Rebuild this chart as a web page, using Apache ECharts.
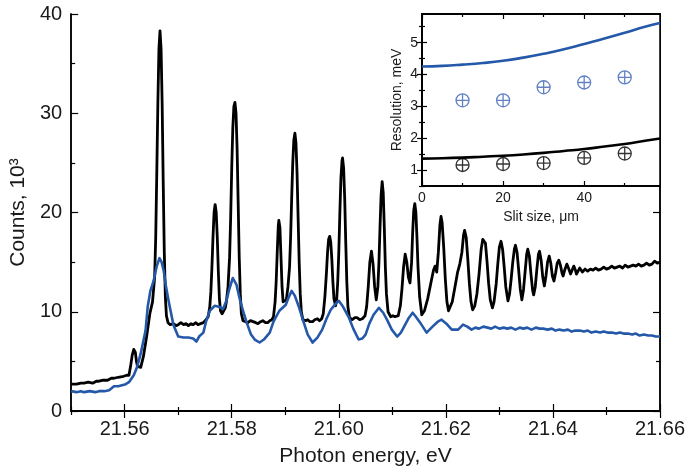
<!DOCTYPE html>
<html><head><meta charset="utf-8">
<script src="https://cdn.jsdelivr.net/npm/echarts@6/dist/echarts.min.js"></script>
<style>html,body{margin:0;padding:0;background:#fff}#c{width:688px;height:472px}</style>
</head><body><div id="c"></div>
<script>
// ---- main spectrum data (photon energy eV, counts x10^3) ----
const blackSpectrum = [[21.5500,2.7],[21.5510,2.7],[21.5518,2.8],[21.5524,2.8],[21.5532,2.9],[21.5540,2.8],[21.5547,3.0],[21.5552,3.0],[21.5560,3.1],[21.5568,3.1],[21.5575,3.3],[21.5580,3.3],[21.5588,3.4],[21.5598,3.5],[21.5604,3.6],[21.5608,3.6],[21.5611,4.5],[21.5614,5.6],[21.5617,6.2],[21.5620,5.9],[21.5622,5.0],[21.5624,4.5],[21.5630,4.4],[21.5635,5.5],[21.5641,7.5],[21.5647,9.8],[21.5652,11.0],[21.5656,13.5],[21.5658,17.5],[21.5660,24.0],[21.5662,31.0],[21.5664,36.5],[21.5666,38.3],[21.5668,36.5],[21.5670,31.0],[21.5672,23.0],[21.5674,16.0],[21.5676,11.5],[21.5678,9.6],[21.5681,8.9],[21.5685,8.7],[21.5691,8.8],[21.5696,8.6],[21.5700,8.7],[21.5705,8.9],[21.5710,8.7],[21.5715,8.8],[21.5719,8.6],[21.5724,8.8],[21.5728,8.7],[21.5733,8.9],[21.5737,8.7],[21.5742,8.8],[21.5747,8.9],[21.5752,9.2],[21.5756,9.5],[21.5759,10.5],[21.5761,12.0],[21.5763,14.5],[21.5765,17.5],[21.5767,20.0],[21.5769,20.8],[21.5771,20.0],[21.5773,17.5],[21.5775,14.0],[21.5777,11.3],[21.5779,10.1],[21.5782,9.8],[21.5785,9.9],[21.5788,10.4],[21.5790,11.0],[21.5793,12.5],[21.5796,15.5],[21.5798,19.5],[21.5800,24.5],[21.5802,28.5],[21.5804,30.7],[21.5806,31.1],[21.5808,30.0],[21.5810,26.5],[21.5812,21.0],[21.5814,15.5],[21.5816,11.8],[21.5818,9.8],[21.5821,9.1],[21.5826,9.0],[21.5830,8.9],[21.5835,9.1],[21.5840,9.0],[21.5845,8.9],[21.5849,8.8],[21.5854,9.0],[21.5858,9.1],[21.5863,8.9],[21.5867,8.9],[21.5871,9.1],[21.5875,9.2],[21.5878,9.5],[21.5881,11.0],[21.5883,13.0],[21.5885,16.0],[21.5887,18.7],[21.5888,19.2],[21.5890,18.5],[21.5892,15.5],[21.5894,12.5],[21.5896,11.0],[21.5899,10.8],[21.5902,11.2],[21.5905,12.5],[21.5908,14.5],[21.5910,17.5],[21.5912,21.5],[21.5914,25.0],[21.5916,27.3],[21.5918,28.0],[21.5920,27.0],[21.5922,24.0],[21.5924,19.5],[21.5926,15.0],[21.5928,11.8],[21.5930,10.0],[21.5933,9.2],[21.5938,9.1],[21.5942,9.2],[21.5946,9.0],[21.5951,9.0],[21.5955,9.2],[21.5960,9.3],[21.5964,9.1],[21.5968,9.3],[21.5971,9.8],[21.5974,11.5],[21.5977,14.0],[21.5979,16.0],[21.5981,17.3],[21.5983,17.6],[21.5985,17.0],[21.5987,15.3],[21.5989,13.0],[21.5991,11.3],[21.5994,10.6],[21.5996,11.2],[21.5998,13.0],[21.6000,16.0],[21.6002,20.0],[21.6004,23.5],[21.6006,25.2],[21.6007,25.5],[21.6009,24.5],[21.6011,21.5],[21.6013,17.0],[21.6015,13.0],[21.6017,10.5],[21.6020,9.4],[21.6025,9.2],[21.6030,9.4],[21.6034,9.4],[21.6039,9.2],[21.6044,9.3],[21.6049,9.6],[21.6052,10.5],[21.6055,12.5],[21.6058,15.0],[21.6061,16.1],[21.6064,14.8],[21.6067,12.5],[21.6070,11.2],[21.6073,12.5],[21.6075,15.0],[21.6077,18.5],[21.6079,21.7],[21.6081,23.1],[21.6083,22.0],[21.6085,18.5],[21.6087,14.5],[21.6089,11.8],[21.6092,10.0],[21.6097,9.5],[21.6101,9.6],[21.6105,9.5],[21.6108,9.7],[21.6111,9.6],[21.6115,10.6],[21.6118,12.3],[21.6121,14.5],[21.6124,15.8],[21.6127,15.0],[21.6130,13.5],[21.6133,12.9],[21.6136,15.0],[21.6138,18.0],[21.6140,20.2],[21.6142,20.9],[21.6144,20.0],[21.6146,17.5],[21.6148,14.5],[21.6151,11.5],[21.6155,9.7],[21.6160,10.1],[21.6166,11.3],[21.6172,12.9],[21.6177,14.2],[21.6180,14.6],[21.6183,14.0],[21.6186,16.0],[21.6189,18.8],[21.6191,19.6],[21.6193,19.0],[21.6196,16.5],[21.6199,13.3],[21.6202,11.0],[21.6205,10.1],[21.6208,10.3],[21.6212,11.0],[21.6217,12.5],[21.6222,14.0],[21.6226,14.8],[21.6230,16.0],[21.6233,17.7],[21.6235,18.2],[21.6238,17.5],[21.6241,15.3],[21.6244,12.8],[21.6247,11.0],[21.6250,10.2],[21.6254,10.6],[21.6258,11.8],[21.6262,13.8],[21.6266,16.3],[21.6269,17.3],[21.6271,17.5],[21.6274,16.9],[21.6277,15.0],[21.6280,12.8],[21.6283,11.2],[21.6287,10.4],[21.6290,11.0],[21.6294,12.8],[21.6297,14.8],[21.6300,16.5],[21.6303,17.1],[21.6306,16.3],[21.6309,14.5],[21.6312,12.5],[21.6316,11.1],[21.6319,11.8],[21.6322,13.3],[21.6325,15.0],[21.6328,16.3],[21.6330,16.7],[21.6333,16.0],[21.6336,14.2],[21.6339,12.3],[21.6342,11.2],[21.6345,12.2],[21.6348,14.0],[21.6351,15.8],[21.6353,16.3],[21.6356,15.6],[21.6359,13.8],[21.6362,12.2],[21.6364,11.7],[21.6367,12.5],[21.6370,14.3],[21.6373,15.8],[21.6375,16.1],[21.6378,15.2],[21.6381,13.5],[21.6384,12.6],[21.6387,13.6],[21.6390,15.0],[21.6393,15.6],[21.6396,14.9],[21.6399,13.6],[21.6402,13.1],[21.6405,13.9],[21.6408,14.9],[21.6411,15.2],[21.6414,14.7],[21.6417,13.9],[21.6419,13.6],[21.6422,14.2],[21.6426,14.8],[21.6429,14.4],[21.6433,13.8],[21.6436,14.2],[21.6439,14.6],[21.6442,14.2],[21.6444,13.8],[21.6447,14.1],[21.6450,14.4],[21.6455,14.0],[21.6460,14.3],[21.6465,14.1],[21.6470,14.3],[21.6475,14.2],[21.6480,14.4],[21.6485,14.2],[21.6490,14.3],[21.6495,14.5],[21.6500,14.3],[21.6505,14.4],[21.6510,14.6],[21.6515,14.4],[21.6520,14.5],[21.6525,14.6],[21.6530,14.4],[21.6535,14.7],[21.6540,14.5],[21.6545,14.6],[21.6550,14.7],[21.6555,14.6],[21.6560,14.8],[21.6565,14.6],[21.6570,14.7],[21.6575,14.9],[21.6580,14.7],[21.6585,14.8],[21.6590,15.1],[21.6595,14.9],[21.6600,15.0]];

const blueSpectrum = [[21.5500,2.0],[21.5510,1.9],[21.5518,2.0],[21.5524,1.9],[21.5535,2.0],[21.5545,1.9],[21.5552,2.0],[21.5562,2.0],[21.5571,2.1],[21.5580,2.5],[21.5588,2.5],[21.5595,2.6],[21.5602,2.7],[21.5608,2.9],[21.5617,3.6],[21.5623,4.4],[21.5630,5.8],[21.5639,8.1],[21.5643,10.5],[21.5648,12.1],[21.5654,13.1],[21.5660,14.6],[21.5665,15.4],[21.5669,15.0],[21.5673,14.1],[21.5677,12.6],[21.5682,11.1],[21.5691,8.7],[21.5700,7.5],[21.5710,7.4],[21.5719,7.4],[21.5728,7.3],[21.5734,7.0],[21.5739,7.5],[21.5747,7.9],[21.5752,9.0],[21.5759,10.1],[21.5768,10.6],[21.5776,10.5],[21.5784,10.3],[21.5790,11.1],[21.5795,12.2],[21.5802,13.4],[21.5809,12.7],[21.5814,11.5],[21.5821,10.1],[21.5828,8.9],[21.5836,7.7],[21.5843,7.2],[21.5852,6.9],[21.5860,7.2],[21.5871,7.9],[21.5878,9.0],[21.5889,10.1],[21.5901,10.7],[21.5906,11.4],[21.5912,12.1],[21.5918,11.6],[21.5926,10.4],[21.5934,9.0],[21.5942,7.7],[21.5951,6.9],[21.5960,7.4],[21.5969,8.2],[21.5977,9.3],[21.5985,10.2],[21.5994,10.8],[21.6000,11.1],[21.6008,10.5],[21.6019,9.4],[21.6027,8.3],[21.6037,7.2],[21.6044,7.3],[21.6050,7.7],[21.6057,8.8],[21.6065,9.7],[21.6075,10.4],[21.6083,9.9],[21.6090,9.2],[21.6099,8.2],[21.6109,7.5],[21.6116,7.9],[21.6124,8.7],[21.6131,9.4],[21.6138,9.9],[21.6144,9.5],[21.6152,8.9],[21.6164,7.9],[21.6177,8.6],[21.6185,9.0],[21.6192,9.2],[21.6201,8.8],[21.6211,8.2],[21.6223,8.2],[21.6232,8.7],[21.6240,8.5],[21.6248,8.2],[21.6255,8.4],[21.6262,8.3],[21.6270,8.5],[21.6278,8.4],[21.6285,8.3],[21.6292,8.5],[21.6300,8.3],[21.6308,8.4],[21.6315,8.3],[21.6322,8.4],[21.6330,8.2],[21.6338,8.4],[21.6345,8.3],[21.6352,8.4],[21.6360,8.2],[21.6368,8.4],[21.6375,8.3],[21.6382,8.3],[21.6390,8.2],[21.6398,8.3],[21.6405,8.1],[21.6412,8.2],[21.6420,8.1],[21.6428,8.2],[21.6435,8.0],[21.6442,8.1],[21.6450,8.1],[21.6458,8.0],[21.6465,8.1],[21.6472,7.9],[21.6480,8.0],[21.6488,7.9],[21.6495,8.0],[21.6502,7.9],[21.6510,7.9],[21.6518,7.8],[21.6525,7.9],[21.6532,7.8],[21.6540,7.8],[21.6548,7.7],[21.6555,7.8],[21.6562,7.6],[21.6570,7.7],[21.6578,7.6],[21.6585,7.6],[21.6592,7.5],[21.6600,7.5]];

// ---- inset data (slit size um, resolution meV) ----
const slitPoints = [10, 20, 30, 40, 50];
const bluePointRes = [3.19, 3.19, 3.60, 3.75, 3.91];
const blackPointRes = [1.16, 1.19, 1.22, 1.38, 1.52];
const curveSlit = [0, 5, 10, 15, 20, 25, 30, 35, 40, 45, 50, 55, 58.7];
const blueCurveRes = [4.25, 4.27, 4.31, 4.36, 4.43, 4.53, 4.65, 4.79, 4.96, 5.13, 5.31, 5.50, 5.62];
const blackCurveRes = [1.36, 1.37, 1.39, 1.42, 1.45, 1.49, 1.54, 1.60, 1.66, 1.74, 1.82, 1.92, 1.99];

// ---- tick labels ----
const mainXTicks = [21.56, 21.58, 21.60, 21.62, 21.64, 21.66];
const mainXMinor = [21.55, 21.57, 21.59, 21.61, 21.63, 21.65];
const mainYTicks = [0, 10, 20, 30, 40];
const mainYMinor = [5, 15, 25, 35];
const insetXTicks = [0, 20, 40];
const insetXMinor = [10, 30, 50];
const insetYTicks = [1, 2, 3, 4, 5];
const insetYMinor = [0.5, 1.5, 2.5, 3.5, 4.5, 5.5];

const FONT = 'Liberation Sans, Arial, sans-serif';
const BLUE = '#2458a8';
const BLUE_PT = '#3b62b5';

function axis(grid, pos, min, max, ticks, len, extra) {
  const a = {
    type: 'value', gridIndex: grid, position: pos, min: min, max: max,
    axisLine: {show: true, lineStyle: {color: '#000', width: 1.5}},
    axisTick: {show: true, inside: true, length: len, customValues: ticks, lineStyle: {color: '#000', width: 1.2}},
    axisLabel: {show: false},
    splitLine: {show: false}
  };
  return Object.assign(a, extra || {});
}
function lab(ticks, size, margin, fmt) {
  return {show: true, customValues: ticks, fontSize: size, color: '#1a1a1a', fontFamily: FONT, margin: margin, formatter: fmt};
}

const xAxes = [
  axis(0, 'bottom', 21.55, 21.66, mainXTicks, 7, {
    axisLabel: lab(mainXTicks, 20, 8, v => v.toFixed(2)),
    name: 'Photon energy, eV', nameLocation: 'middle', nameGap: 35,
    nameTextStyle: {fontSize: 21, color: '#1a1a1a', fontFamily: FONT}
  }),
  axis(0, 'bottom', 21.55, 21.66, mainXMinor, 4),
  axis(0, 'top', 21.55, 21.66, mainXTicks, 7),
  axis(0, 'top', 21.55, 21.66, mainXMinor, 4),
  axis(1, 'bottom', 0, 58.7, insetXTicks, 5, {
    z: 6,
    axisLabel: lab(insetXTicks, 14, 5, v => String(v)),
    name: 'Slit size, μm', nameLocation: 'middle', nameGap: 24,
    nameTextStyle: {fontSize: 14, color: '#1a1a1a', fontFamily: FONT}
  }),
  axis(1, 'bottom', 0, 58.7, insetXMinor, 3, {z: 6}),
  axis(1, 'top', 0, 58.7, insetXTicks, 5, {z: 6}),
  axis(1, 'top', 0, 58.7, insetXMinor, 3, {z: 6})
];
const yAxes = [
  axis(0, 'left', 0, 40, mainYTicks, 7, {
    axisLabel: lab(mainYTicks, 20, 9, v => String(v)),
    name: 'Counts, 10³', nameLocation: 'middle', nameGap: 38,
    nameTextStyle: {fontSize: 21, color: '#1a1a1a', fontFamily: FONT}
  }),
  axis(0, 'left', 0, 40, mainYMinor, 4),
  axis(0, 'right', 0, 40, mainYTicks, 7),
  axis(0, 'right', 0, 40, mainYMinor, 4),
  axis(1, 'left', 0.5, 5.9, insetYTicks, 5, {
    z: 6,
    axisLabel: lab(insetYTicks, 14, 4, v => String(v)),
    name: 'Resolution, meV', nameLocation: 'middle', nameGap: 18,
    nameTextStyle: {fontSize: 14, color: '#1a1a1a', fontFamily: FONT}
  }),
  axis(1, 'left', 0.5, 5.9, insetYMinor, 3, {z: 6}),
  axis(1, 'right', 0.5, 5.9, insetYTicks, 5, {z: 6}),
  axis(1, 'right', 0.5, 5.9, insetYMinor, 3, {z: 6})
];

const circlePlus = 'path://M10,0A10,10,0,1,1,-10,0A10,10,0,1,1,10,0ZM-10,0L10,0M0,-10L0,10';

const chart = echarts.init(document.getElementById('c'), null, {renderer: 'canvas'});
chart.setOption({
  backgroundColor: '#fff',
  animation: false,
  grid: [
    {left: 67, top: 14, width: 593, height: 400, show: false},
    {left: 422, top: 14, width: 238, height: 172, show: true, backgroundColor: '#fff', borderColor: '#000', borderWidth: 1.5, z: 4}
  ],
  xAxis: xAxes,
  yAxis: yAxes,
  series: [
    {type: 'line', xAxisIndex: 0, yAxisIndex: 0, data: blackSpectrum, showSymbol: false,
     lineStyle: {color: '#000', width: 2.8, join: 'round'}, z: 2},
    {type: 'line', xAxisIndex: 0, yAxisIndex: 0, data: blueSpectrum, showSymbol: false,
     lineStyle: {color: BLUE, width: 2.6, join: 'round'}, z: 3},
    {type: 'line', xAxisIndex: 4, yAxisIndex: 4, data: curveSlit.map((s, i) => [s, blueCurveRes[i]]),
     showSymbol: false, smooth: true, lineStyle: {color: BLUE, width: 2.6}, z: 7},
    {type: 'line', xAxisIndex: 4, yAxisIndex: 4, data: curveSlit.map((s, i) => [s, blackCurveRes[i]]),
     showSymbol: false, smooth: true, lineStyle: {color: '#000', width: 2.6}, z: 7},
    {type: 'scatter', xAxisIndex: 4, yAxisIndex: 4, data: slitPoints.map((s, i) => [s, bluePointRes[i]]),
     symbol: circlePlus, symbolSize: 13,
     itemStyle: {color: 'rgba(0,0,0,0)', borderColor: BLUE_PT, borderWidth: 1.3}, z: 8},
    {type: 'scatter', xAxisIndex: 4, yAxisIndex: 4, data: slitPoints.map((s, i) => [s, blackPointRes[i]]),
     symbol: circlePlus, symbolSize: 13,
     itemStyle: {color: 'rgba(0,0,0,0)', borderColor: '#000', borderWidth: 1.3}, z: 8}
  ]
});
</script></body></html>
